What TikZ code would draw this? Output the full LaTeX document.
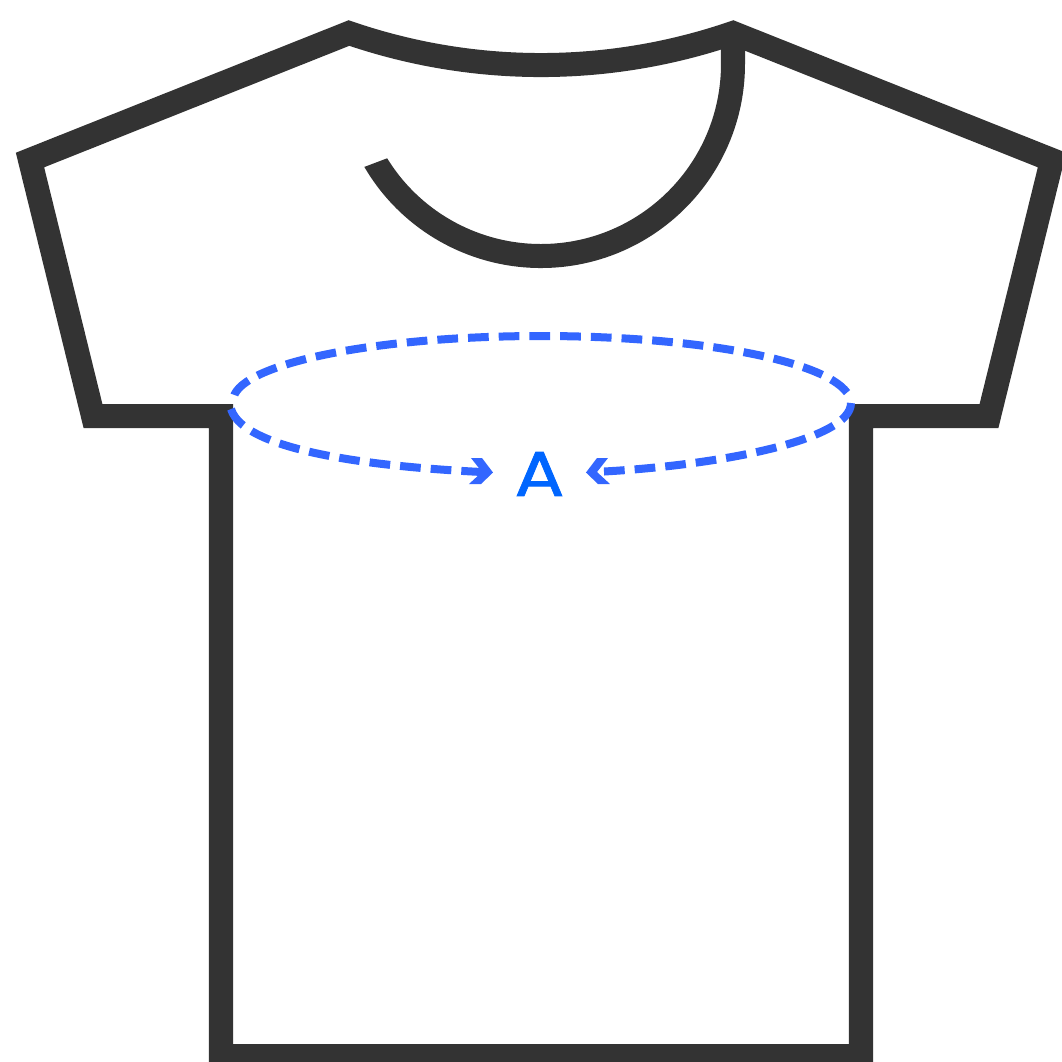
\documentclass[tikz,border=0pt]{standalone}
\usepackage{fontspec}
\setmainfont{Poppins}
\newfontfamily\markfont[FakeBold=1.2,FakeStretch=1.17]{Poppins}
\definecolor{shirt}{HTML}{333333}
\definecolor{measure}{HTML}{3366FF}
\definecolor{letter}{HTML}{0066FF}
\tikzset{
  shirtline/.style={draw=shirt,line width=0.24cm,miter limit=10},
  measureline/.style={draw=measure,line width=0.08cm,dash pattern=on 0.207cm off 0.10cm},
  measurehead/.style={fill=measure,draw=none},
  marklabel/.style={text=letter,font=\markfont\fontsize{18pt}{20pt}\selectfont,inner xsep=0.24cm,inner ysep=0pt}
}
\begin{document}
\begin{tikzpicture}[x=0.01cm,y=-0.01cm]
\useasboundingbox (0,0) rectangle (1062,1062);
\clip (0,0) rectangle (1062,1062);
\fill[white] (0,0) rectangle (1062,1062);
% body and sleeves
\draw[shirtline] (349,33) .. controls (473.4,75.7) and (608.6,75.7) .. (733,33)
  -- (1052,160) -- (989,416) -- (861,416) -- (861,1056) -- (221,1056) -- (221,416)
  -- (93,416) -- (30,160) -- cycle;
% neckline, its free end cut on a slant
\begin{scope}
\clip (298,192) -- (454,133) -- (454,0) -- (800,0) -- (800,300) -- (298,300) -- cycle;
\draw[shirtline] (733,33) -- (733,64) .. controls (733,170) and (647,256) .. (541,256)
  .. controls (473.6,256) and (410.8,220.9) .. (376,163) -- (369.8,152.7);
\end{scope}
% label
\node[marklabel] (A) at (539.5,474) {A};
\coordinate (ringL) at (231,409);
\coordinate (ringLT) at (233,401);
\coordinate (ringR) at (851,403);
\coordinate (ringRT) at (847,392.6);
\coordinate (ringT) at (541,336);
\coordinate (shaftL) at (482,472);
\coordinate (shaftR) at (604,471.5);
% measuring ring
\draw[measureline] (ringRT) .. controls (822.7,359.5) and (694,336) .. (ringT)
  .. controls (371,336) and (233,365) .. (ringLT);
\draw[measureline] (shaftL) .. controls (400,468) and (245,455) .. (ringL);
\draw[measureline] (shaftR) .. controls (720,465) and (851,440) .. (ringR);
% arrow heads
\fill[measurehead] (471,458) -- (482,458) -- (493,472.5) -- (481,484) -- (469,484) -- (482,472) -- cycle;
\fill[measurehead] (608,458) -- (597,458) -- (586,472.5) -- (598,484) -- (610,484) -- (597,472) -- cycle;
\end{tikzpicture}
\end{document}
